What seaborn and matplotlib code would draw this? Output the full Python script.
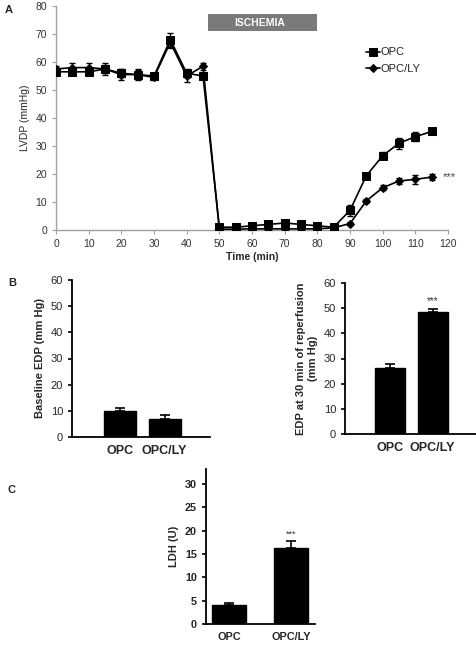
import numpy as np
import pandas as pd
import matplotlib
matplotlib.use("Agg")
import matplotlib.pyplot as plt
import seaborn as sns

sns.set_theme(style="white")
plt.rcParams['font.family'] = ['Liberation Sans', 'DejaVu Sans']

# ---------------- data ----------------
time_min = [0, 5, 10, 15, 20, 25, 30, 35, 40, 45, 50, 55, 60, 65, 70, 75, 80, 85, 90, 95, 100, 105, 110, 115]
opc_lvdp = [56.5, 56.5, 56.5, 57.5, 56, 55.5, 55, 68, 56, 55, 1, 1, 1.5, 2, 2.5, 2, 1.5, 1, 7, 19.4, 26.5, 31, 33.3, 35.2]
opc_lvdp_err = [1, 1, 1, 1.5, 1.5, 1.5, 1, 2.5, 1.5, 1, 0.3, 0.3, 0.4, 0.5, 0.6, 0.5, 0.4, 0.3, 2, 1, 1.3, 2, 1.6, 1]
opcly_lvdp = [57.5, 58, 58, 57.5, 55.5, 55.5, 54.5, 67, 55, 58.5, 0.3, 0.3, 0.4, 0.4, 0.4, 0.4, 0.4, 0.8, 2.3, 10.4, 15.1, 17.5, 18.1, 18.9]
opcly_lvdp_err = [1, 1.5, 1.5, 2, 2, 2, 1, 2, 2, 1.2, 0.2, 0.2, 0.2, 0.2, 0.2, 0.2, 0.2, 0.3, 0.5, 0.8, 0.8, 1, 1.5, 1]

groups = ["OPC", "OPC/LY"]
baseline_edp = [10, 7]
baseline_edp_err = [1.2, 1.5]
reperf_edp = [26.3, 48.3]
reperf_edp_err = [1.4, 1.2]
ldh = [4.0, 16.2]
ldh_err = [0.4, 1.5]

W, H = 476, 645
fig = plt.figure(figsize=(W / 100, H / 100), dpi=100)


def rect(l, t, r, b):
    return [l / W, 1 - b / H, (r - l) / W, (b - t) / H]


# ---------------- Panel A ----------------
axA = fig.add_axes(rect(56, 6, 448, 230))
dfA = pd.DataFrame({
    "Time": time_min * 2,
    "LVDP": opc_lvdp + opcly_lvdp,
    "err": opc_lvdp_err + opcly_lvdp_err,
    "Group": ["OPC"] * len(time_min) + ["OPC/LY"] * len(time_min),
})
for g, mk, ms in [("OPC", "s", 6), ("OPC/LY", "D", 4.2)]:
    sub = dfA[dfA["Group"] == g]
    axA.errorbar(sub["Time"], sub["LVDP"], yerr=sub["err"], fmt="none",
                 ecolor="black", elinewidth=1, capsize=2, zorder=2)
    sns.lineplot(data=sub, x="Time", y="LVDP", color="black", marker=mk,
                 markersize=ms, markeredgecolor="black", linewidth=1.2,
                 ax=axA, zorder=3, label=g)
axA.set_xlim(0, 120)
axA.set_ylim(0, 80)
axA.set_xticks(range(0, 121, 10))
axA.set_yticks(range(0, 81, 10))
axA.tick_params(axis="both", labelsize=7.5, labelcolor="#333333", length=3,
                direction="out", bottom=True, left=True, width=0.8,
                color="#a0a0a0")
for s in ["top", "right"]:
    axA.spines[s].set_visible(False)
for s in ["left", "bottom"]:
    axA.spines[s].set_color("#a0a0a0")
    axA.spines[s].set_linewidth(1)
axA.set_xlabel("Time (min)", fontsize=7.5, fontweight="bold", labelpad=2)
axA.set_ylabel("LVDP (mmHg)", fontsize=7.5, labelpad=4)
axA.legend(loc="upper left", bbox_to_anchor=(0.78, 0.835), frameon=False,
           fontsize=8, handlelength=1.2, handletextpad=0.1,
           labelspacing=0.6, borderaxespad=0)
# Ischemia bar
axA.add_patch(plt.Rectangle((46.5, 71), 33.5, 6.2, facecolor="#7a7a7a",
                            edgecolor="none", clip_on=False, zorder=1))
axA.text(54.5, 74.1, "ISCHEMIA", color="white", fontsize=7.5,
         fontweight="bold", va="center", ha="left")
axA.text(118.3, 18.9, "***", fontsize=8, color="#444444", va="center",
         ha="left", clip_on=False)
fig.text(5 / W, 1 - 10 / H, "A", fontsize=8, fontweight="bold", va="center")


def bar_panel(ax, vals, errs, width, ylim, yticks, ylabel, xlim, bold_ticks=False,
              star=False, star_size=7, xsize=9, ysize=8):
    df = pd.DataFrame({"Group": groups, "val": vals})
    sns.barplot(data=df, x="Group", y="val", color="black", width=width,
                saturation=1, ax=ax, errorbar=None, edgecolor="black")
    ax.errorbar(range(len(vals)), vals, yerr=[[0] * len(errs), errs],
                fmt="none", ecolor="black", elinewidth=1.2, capsize=3.5,
                capthick=1.2)
    ax.set_ylim(*ylim)
    ax.set_yticks(yticks)
    ax.set_xlim(*xlim)
    ax.set_xlabel("")
    ax.set_ylabel(ylabel, fontsize=8, fontweight="bold", labelpad=4)
    for s in ["top", "right"]:
        ax.spines[s].set_visible(False)
    for s in ["left", "bottom"]:
        ax.spines[s].set_color("black")
        ax.spines[s].set_linewidth(1.3)
    ax.tick_params(axis="x", length=0, labelsize=xsize, pad=6)
    ax.tick_params(axis="y", labelsize=ysize, length=3,
                   direction="out", left=True, width=1.2, color="black")
    for lab in ax.get_xticklabels():
        lab.set_fontweight("bold")
    if bold_ticks:
        for lab in ax.get_yticklabels():
            lab.set_fontweight("bold")
    if star:
        ax.text(1, vals[1] + errs[1] + (ylim[1] - ylim[0]) * 0.02, "***",
                ha="center", va="bottom", fontsize=star_size, color="#333333")


# ---------------- Panel B left ----------------
axB1 = fig.add_axes(rect(72, 280, 210, 437))
bar_panel(axB1, baseline_edp, baseline_edp_err, 0.72, (0, 60), range(0, 61, 10),
          "Baseline EDP (mm Hg)", (-1.08, 2.02))
fig.text(8 / W, 1 - 283 / H, "B", fontsize=8, fontweight="bold", va="center")

# ---------------- Panel B right ----------------
axB2 = fig.add_axes(rect(345, 283, 476, 434))
bar_panel(axB2, reperf_edp, reperf_edp_err, 0.7, (0, 60), range(0, 61, 10),
          "EDP at 30 min of reperfusion\n(mm Hg)", (-1.06, 2.02), star=True)

# ---------------- Panel C ----------------
axC = fig.add_axes(rect(206, 469, 315, 624))
bar_panel(axC, ldh, ldh_err, 0.56, (0, 33.2), range(0, 31, 5),
          "LDH (U)", (-0.37, 1.39), bold_ticks=True, star=True, star_size=6.5,
          xsize=7.8, ysize=7.8)
fig.text(8 / W, 1 - 490 / H, "C", fontsize=8, fontweight="bold", va="center")

fig.savefig("out.png", dpi=100)
